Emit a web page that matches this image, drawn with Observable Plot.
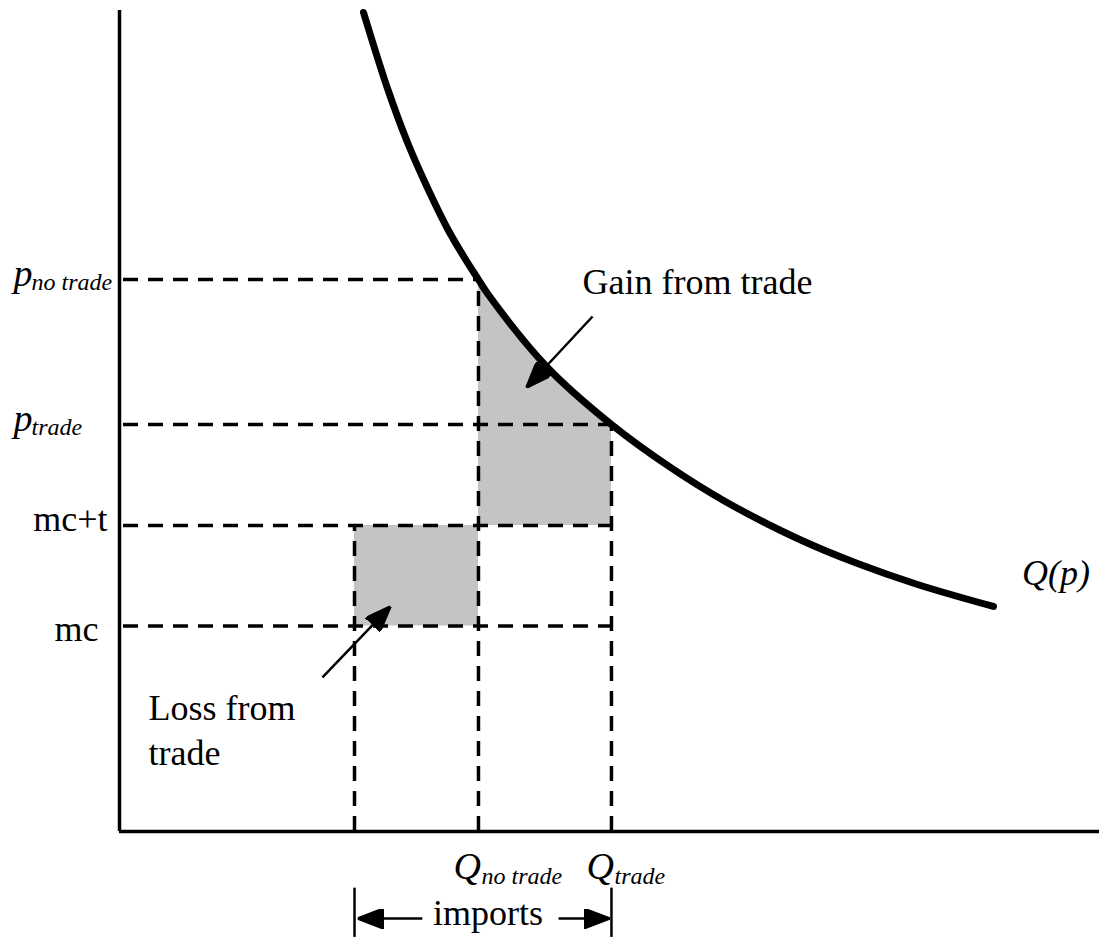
<!DOCTYPE html>
<html><head><meta charset="utf-8">
<script src="https://cdn.jsdelivr.net/npm/d3@7"></script>
<script src="https://cdn.jsdelivr.net/npm/@observablehq/plot@0.6"></script>
<style>body{margin:0;background:#fff} svg{display:block}</style>
</head><body><div id="chart"></div>
<script>
// ---- Demand curve Q(p) (quantity, price) ----
const curveQ = [24.9, 27.35, 29.39, 31.22, 33.57, 35.82, 36.63, 37.55, 43.67, 50.2, 56.22, 61.63, 69.18, 75.31, 81.43, 89.18];
const curveP = [99.76, 90.5, 83.92, 78.93, 73.2, 68.7, 67.23, 65.53, 56.52, 49.57, 44.34, 40.32, 35.69, 32.64, 30.09, 27.41];

// ---- Price levels (vertical axis) ----
const priceNames  = ["p_no trade", "p_trade", "mc+t", "mc"];
const priceValues = [67.23, 49.57, 37.27, 25.03];
const priceMain   = ["p", "p", "mc+t", "mc"];
const priceSub    = ["no trade", "trade", "", ""];

// ---- Quantity levels (horizontal axis) ----
const qtyNames  = ["Q_low", "Q_no trade", "Q_trade"];
const qtyValues = [23.98, 36.63, 50.2];
const qtyMain   = ["", "Q", "Q"];
const qtySub    = ["", "no trade", "trade"];

// ---- Annotation arrows (tail -> tip), in chart units ----
const arrowNames = ["gain", "loss", "imports-left", "imports-right"];
const arrowQ1 = [48.27, 20.71, 30.9, 44.8];
const arrowP1 = [62.73, 18.76, -10.6, -10.6];
const arrowQ2 = [41.53, 27.65, 24.3, 50.0];
const arrowP2 = [54.08, 27.41, -10.6, -10.6];

// ---- Annotation texts ----
const noteText = ["Gain from trade", "Loss from\ntrade"];
const noteQ = [47.24, 2.96];
const noteP = [65.5, 8.04];
const importsText = "imports";
const importsQ = 37.6, importsP = -11.4;
const curveLabel = "Q(p)";
const curveLabelQ = 92.1, curveLabelP = 30.0;
const bracketP = [-6.9, -12.9]; // vertical extent of the imports bracket ticks

// ---- Build tables ----
const curve = curveQ.map((q, i) => ({q, p: curveP[i]}));
const P = Object.fromEntries(priceNames.map((n, i) => [n, priceValues[i]]));
const Q = Object.fromEntries(qtyNames.map((n, i) => [n, qtyValues[i]]));
const hLines = [
  {p: P["p_no trade"], q: Q["Q_no trade"]},
  {p: P["p_trade"], q: Q["Q_trade"]},
  {p: P["mc+t"], q: Q["Q_trade"]},
  {p: P["mc"], q: Q["Q_trade"]}
];
const vLines = [
  {q: Q["Q_low"], p: P["mc+t"]},
  {q: Q["Q_no trade"], p: P["p_no trade"]},
  {q: Q["Q_trade"], p: P["p_trade"]}
];
const gainArea = curve.filter(d => d.q >= Q["Q_no trade"] - 1e-9 && d.q <= Q["Q_trade"] + 1e-9);
const lossRect = [{x1: Q["Q_low"], x2: Q["Q_no trade"], y1: P["mc"], y2: P["mc+t"]}];
const arrows = arrowNames.map((n, i) => ({name: n, x1: arrowQ1[i], y1: arrowP1[i], x2: arrowQ2[i], y2: arrowP2[i]}));
const yLab = priceMain.map((m, i) => ({p: priceValues[i], main: m, sub: priceSub[i]}));
const xLab = qtyMain.map((m, i) => ({q: qtyValues[i], main: m, sub: qtySub[i]})).filter(d => d.main);
const notes = noteText.map((t, i) => ({t, q: noteQ[i], p: noteP[i]}));
const bracket = [Q["Q_low"], Q["Q_trade"]].map(q => ({q, p1: bracketP[0], p2: bracketP[1]}));

// filled triangular arrowhead marker
function headMarker(len, half) {
  return (color) => {
    const m = d3.create("svg:marker")
      .attr("viewBox", `${-len} ${-half} ${len} ${2 * half}`)
      .attr("markerWidth", len).attr("markerHeight", 2 * half)
      .attr("markerUnits", "userSpaceOnUse")
      .attr("refX", 0).attr("refY", 0)
      .attr("orient", "auto");
    m.append("path").attr("d", `M0,0L${-len},${-half}L${-len},${half}Z`).attr("fill", color);
    return m.node();
  };
}

const font = "Liberation Serif, Times New Roman, serif";
const dash = "15 10";

const chart = Plot.plot({
  width: 1099, height: 942,
  marginLeft: 119, marginRight: 0, marginTop: 10, marginBottom: 111,
  x: {domain: [0, 100], axis: null},
  y: {domain: [0, 100], axis: null},
  style: {fontFamily: font, background: "white", overflow: "visible"},
  marks: [
    Plot.areaY(gainArea, {x: "q", y1: P["mc+t"], y2: "p", fill: "#c4c4c4", curve: "catmull-rom"}),
    Plot.rect(lossRect, {x1: "x1", x2: "x2", y1: "y1", y2: "y2", fill: "#c4c4c4"}),
    Plot.ruleY(hLines, {y: "p", x1: 0, x2: "q", stroke: "black", strokeWidth: 3.5, strokeDasharray: dash, insetLeft: 4}),
    Plot.ruleX(vLines, {x: "q", y1: 0, y2: "p", stroke: "black", strokeWidth: 3.5, strokeDasharray: dash}),
    Plot.ruleX([0], {stroke: "black", strokeWidth: 3.5}),
    Plot.ruleY([0], {stroke: "black", strokeWidth: 3.5}),
    Plot.line(curve, {x: "q", y: "p", stroke: "black", strokeWidth: 7, curve: "catmull-rom"}),
    Plot.link(arrows, {x1: "x1", y1: "y1", x2: "x2", y2: "y2", stroke: "black", strokeWidth: 2.5, markerEnd: headMarker(26, 10)}),
    Plot.ruleX(bracket, {x: "q", y1: "p1", y2: "p2", stroke: "black", strokeWidth: 2.5}),
    // vertical-axis labels
    Plot.text(yLab.filter(d => d.sub), {x: 0, y: "p", text: "main", textAnchor: "start", lineAnchor: "bottom", dx: -106, dy: 6, fontSize: 38, fontStyle: "italic"}),
    Plot.text(yLab.filter(d => d.sub), {x: 0, y: "p", text: "sub", textAnchor: "start", lineAnchor: "bottom", dx: -88, dy: 10, fontSize: 24, fontStyle: "italic"}),
    Plot.text(yLab.filter(d => d.main === "mc+t"), {x: 0, y: "p", text: "main", textAnchor: "end", lineAnchor: "bottom", dx: -12, dy: 5, fontSize: 36}),
    Plot.text(yLab.filter(d => d.main === "mc"), {x: 0, y: "p", text: "main", textAnchor: "end", lineAnchor: "bottom", dx: -21, dy: 15, fontSize: 36}),
    // horizontal-axis labels
    Plot.text(xLab, {x: "q", y: 0, text: "main", textAnchor: "start", lineAnchor: "bottom", dx: -25, dy: 47, fontSize: 38, fontStyle: "italic"}),
    Plot.text(xLab, {x: "q", y: 0, text: "sub", textAnchor: "start", lineAnchor: "bottom", dx: 3, dy: 52, fontSize: 24, fontStyle: "italic"}),
    // annotations
    Plot.text(notes, {x: "q", y: "p", text: "t", textAnchor: "start", lineAnchor: "bottom", fontSize: 36, lineHeight: 1.25}),
    Plot.text([importsText], {x: importsQ, y: importsP, text: d => d, textAnchor: "middle", lineAnchor: "bottom", fontSize: 36}),
    Plot.text([curveLabel], {x: curveLabelQ, y: curveLabelP, text: d => d, textAnchor: "start", lineAnchor: "bottom", fontSize: 36, fontStyle: "italic"})
  ]
});
document.getElementById("chart").append(chart);
</script>
</body></html>
